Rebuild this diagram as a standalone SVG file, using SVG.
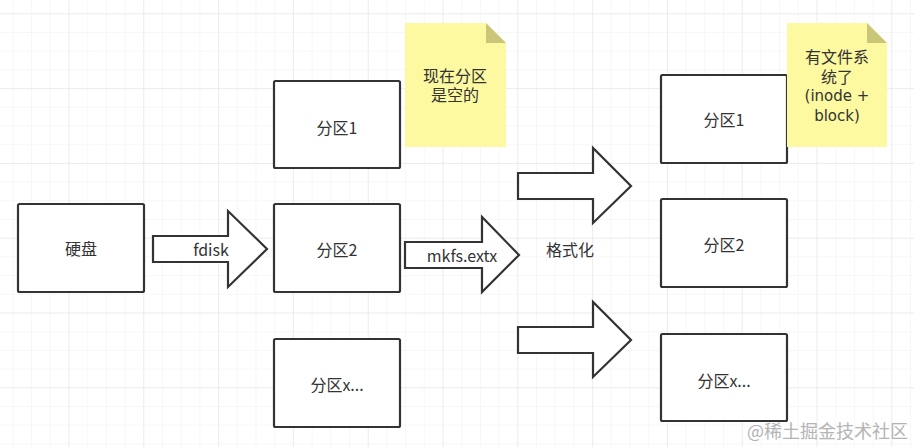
<svg xmlns="http://www.w3.org/2000/svg" width="914" height="447" viewBox="0 0 914 447">
<defs>
<pattern id="minor" x="12.4" y="13.3" width="18.7" height="18.7" patternUnits="userSpaceOnUse">
<path d="M0 0H18.7M0 0V18.7" fill="none" stroke="#efefef" stroke-width="1"/>
</pattern>
<pattern id="major" x="68.5" y="13.3" width="74.8" height="74.8" patternUnits="userSpaceOnUse">
<path d="M0 0H74.8M0 0V74.8" fill="none" stroke="#e2e2e2" stroke-width="1"/>
</pattern>
</defs>
<style>
.box{fill:#fff;stroke:#333;stroke-width:2.2}
.arrow{fill:#fff;stroke:#333;stroke-width:2.2;stroke-linejoin:miter}
.note{fill:#fdf9a1}
.fold{fill:#c9c67a}
text{font-family:"Noto Sans CJK SC","Noto Sans",sans-serif;font-size:16px;fill:#333;text-anchor:middle;dominant-baseline:central}
text.nt{font-family:"Liberation Sans","Noto Sans CJK SC",sans-serif}
.lat{font-family:"DejaVu Sans",sans-serif;font-size:15px}
.wm{font-size:18px;fill:#b4b4b4;text-anchor:start;dominant-baseline:alphabetic}
</style>
<rect width="914" height="447" fill="#fff"/>
<rect width="914" height="447" fill="url(#minor)"/>
<rect width="914" height="447" fill="url(#major)"/>

<g id="connectors">
<g id="arrow-fdisk">
<path class="arrow" d="M153 236H228V211L267 249L228 287V262H153Z"/>
<text x="211" y="249">fdisk</text>
</g>
<g id="arrow-mkfs">
<path class="arrow" d="M405 242H482V217L519 255L482 292V268H405Z"/>
<text x="462" y="255">mkfs.extx</text>
</g>
<path id="arrow-top" class="arrow" d="M518 173H593V148L631 186L593 223V199H518Z"/>
<path id="arrow-bottom" class="arrow" d="M518 327H593V302L631 340L593 377V353H518Z"/>
</g>

<g id="node-disk">
<rect class="box" x="18" y="204" width="126" height="88" rx="1.5"/>
<text x="81" y="248">硬盘</text>
</g>
<g id="node-p1">
<rect class="box" x="274" y="81" width="126" height="87" rx="1.5"/>
<text x="337" y="127">分区1</text>
</g>
<g id="node-p2">
<rect class="box" x="274" y="204" width="126" height="88" rx="1.5"/>
<text x="337" y="249">分区2</text>
</g>
<g id="node-px">
<rect class="box" x="274" y="339" width="126" height="88" rx="1.5"/>
<text x="337" y="384">分区x...</text>
</g>
<g id="note-empty">
<path class="note" d="M405 23H486L506 43V147H405Z"/>
<path class="fold" d="M486 23L506 43H486Z"/>
<text class="nt" x="455" y="76"><tspan x="455">现在分区</tspan><tspan x="455" dy="19">是空的</tspan></text>
</g>
<g id="label-format">
<text x="570" y="249">格式化</text>
</g>
<g id="node-r1">
<rect class="box" x="661" y="75" width="126" height="88" rx="1.5"/>
<text x="724" y="119">分区1</text>
</g>
<g id="node-r2">
<rect class="box" x="661" y="199" width="126" height="88" rx="1.5"/>
<text x="724" y="244">分区2</text>
</g>
<g id="node-rx">
<rect class="box" x="661" y="334" width="126" height="87" rx="1.5"/>
<text x="724" y="380">分区x...</text>
</g>
<g id="note-fs">
<path class="note" d="M787 23H867L887 43V147H787Z"/>
<path class="fold" d="M867 23L887 43H867Z"/>
<text class="nt" x="837" y="57"><tspan x="837">有文件系</tspan><tspan x="837" dy="19.5">统了</tspan><tspan class="lat" x="837" dy="19.5">(inode +</tspan><tspan class="lat" x="837" dy="19.5">block)</tspan></text>
</g>
<text class="wm" x="747" y="438">@稀土掘金技术社区</text>
</svg>
